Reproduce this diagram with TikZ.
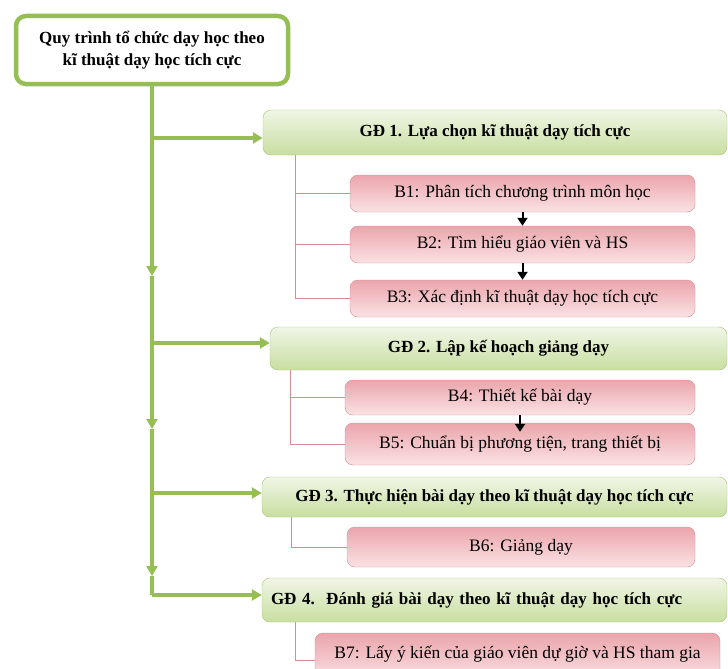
\documentclass[tikz,border=0pt]{standalone}
\usepackage{fontspec}
\setmainfont{Liberation Serif}
\usepackage{xcolor}
\usetikzlibrary{arrows.meta,positioning,calc}

\definecolor{trunkgreen}{RGB}{150,190,85}
\definecolor{gdtop}{RGB}{240,246,230}
\definecolor{gdbottom}{RGB}{200,222,160}
\definecolor{gdedge}{RGB}{165,195,120}
\definecolor{btop}{RGB}{234,165,172}
\definecolor{bbottom}{RGB}{250,226,228}
\definecolor{bedge}{RGB}{215,140,148}

\begin{document}
\begin{tikzpicture}[
    x=1pt, y=-1pt,
    title/.style = {draw=trunkgreen, line width=4.5pt, rounded corners=10pt, fill=white,
        minimum width=272pt, minimum height=68pt, align=center, font=\fontsize{17}{22}\selectfont\bfseries},
    gd/.style = {draw=gdedge, rounded corners=8pt, top color=gdtop, bottom color=gdbottom,
        font=\fontsize{17}{20}\selectfont\bfseries},
    buoc/.style = {draw=bedge, rounded corners=8pt, top color=btop, bottom color=bbottom,
        font=\fontsize{17.5}{20}\selectfont},
    trunk/.style = {draw=trunkgreen, line width=3.5pt},
    branch/.style = {trunk, -{Triangle[length=10pt, width=11pt]}},
    sub/.style = {draw=bedge, line width=0.8pt},
    step_arrow/.style = {draw=black, line width=2pt, -{Triangle[length=8pt, width=10pt]}}
]
    \useasboundingbox (0,0) rectangle (728,669);
    \clip (0,0) rectangle (728,669);

    \node[title] (qt) at (152,50) {Quy trình tổ chức dạy học theo\\kĩ thuật dạy học tích cực};

    % giai doan
    \node[gd, minimum width=464pt, minimum height=45pt] (gd1) at (495,132.5) {GĐ 1. Lựa chọn kĩ thuật dạy tích cực};
    \node[gd, minimum width=457pt, minimum height=43pt] (gd2) at (498.5,348.5) {GĐ 2. Lập kế hoạch giảng dạy};
    \node[gd, minimum width=465pt, minimum height=40pt] (gd3) at (494.5,497) {GĐ 3. Thực hiện bài dạy theo kĩ thuật dạy học tích cực};
    \node[gd, text width=447pt, inner xsep=9pt, align=left, minimum height=44pt] (gd4) at (494.5,600) {GĐ 4.\ \ Đánh giá bài dạy theo kĩ thuật dạy học tích cực};

    % cac buoc
    \node[buoc, minimum width=345pt, minimum height=37pt] (b1) at (522.5,193.5) {B1: Phân tích chương trình môn học};
    \node[buoc, minimum width=345pt, minimum height=37pt] (b2) at (522.5,244.5) {B2: Tìm hiểu giáo viên và HS};
    \node[buoc, minimum width=345pt, minimum height=37pt] (b3) at (522.5,298.5) {B3: Xác định kĩ thuật dạy học tích cực};
    \node[buoc, minimum width=350pt, minimum height=35pt] (b4) at (520,397.5) {B4: Thiết kế bài dạy};
    \node[buoc, minimum width=350pt, minimum height=42pt] (b5) at (520,444) {B5: Chuẩn bị phương tiện, trang thiết bị};
    \node[buoc, minimum width=348pt, minimum height=40pt] (b6) at (521,547) {B6: Giảng dạy};
    \node[buoc, minimum width=405pt, minimum height=48pt, text depth=10pt] (b7) at (517.5,657) {B7: Lấy ý kiến của giáo viên dự giờ và HS tham gia};

    % truc chinh
    \coordinate (t1) at (152,138);
    \coordinate (t2) at (152,343);
    \coordinate (t3) at (152,493);
    \coordinate (t4) at (152,595);
    \coordinate (m1) at (152,276);
    \coordinate (m2) at (152,429);
    \coordinate (m3) at (152,576);

    \draw[trunk] (qt.south) -- (t1);
    \draw[branch] (t1) -- (m1);
    \draw[trunk] (m1) -- (t2);
    \draw[branch] (t2) -- (m2);
    \draw[trunk] (m2) -- (t3);
    \draw[branch] (t3) -- (m3);
    \draw[trunk] (m3) -- (t4);

    \draw[branch] (t1) -- (t1 -| gd1.west);
    \draw[branch] (t2) -- (t2 -| gd2.west);
    \draw[branch] (t3) -- (t3 -| gd3.west);
    \draw[branch] (t4) -- (t4 -| gd4.west);

    % nhanh con
    \coordinate (k1) at ($(gd1.south west)+(33,0)$);
    \coordinate (k2) at ($(gd2.south west)+(21,0)$);
    \coordinate (k3) at ($(gd3.south west)+(30,0)$);
    \coordinate (k4) at ($(gd4.south west)+(34,0)$);

    \draw[sub] (k1) |- (b1.west);
    \draw[sub] (k1) |- (b2.west);
    \draw[sub] (k1) |- (b3.west);
    \draw[sub] (k2) |- (b4.west);
    \draw[sub] (k2) |- (b5.west);
    \draw[sub] (k3) |- (b6.west);
    \draw[sub] (k4) |- (b7.west |- 0,660);

    \draw[step_arrow] (b1) -- (b2);
    \draw[step_arrow] (b2) -- (b3);
    \draw[step_arrow] (b4.south) -- ([yshift=-9pt]b5.north);
\end{tikzpicture}
\end{document}
